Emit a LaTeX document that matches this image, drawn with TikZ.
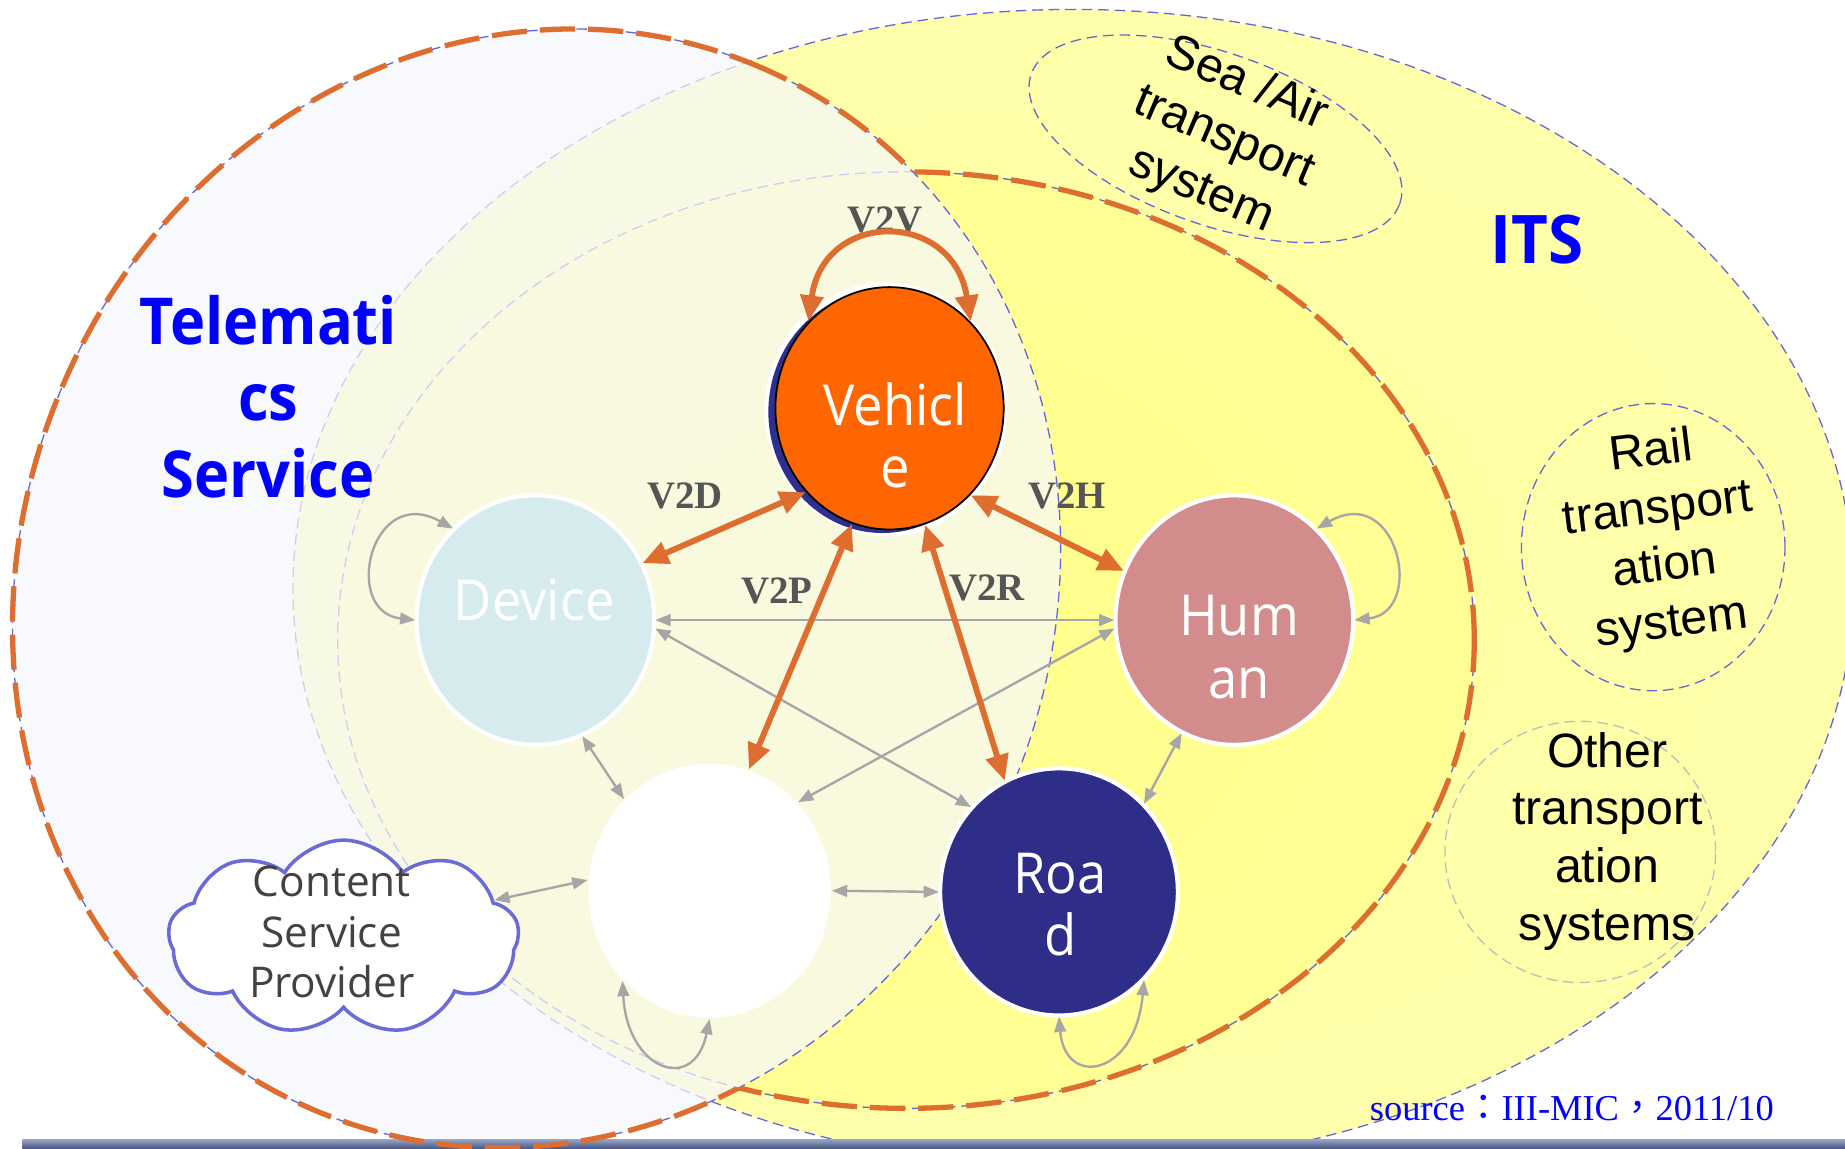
\documentclass[tikz,border=0pt]{standalone}
\usepackage{fontspec}
\setmainfont{Liberation Serif}
\newfontfamily\osans{Open Sans}
\newfontfamily\lsans{Liberation Sans}
\newfontfamily\cjkf{Noto Sans CJK TC}
\usetikzlibrary{arrows.meta,shapes.symbols,shapes.geometric}
\definecolor{itsA}{HTML}{FFFF9C}
\definecolor{itsB}{HTML}{FFFFAE}
\definecolor{itsC}{HTML}{FFFFD8}
\definecolor{inA}{HTML}{FFFF8C}
\definecolor{inB}{HTML}{FFFF99}
\definecolor{inC}{HTML}{FFFFAE}
\pgfdeclareradialshading{itsshade}{\pgfpoint{0bp}{0bp}}{color(0bp)=(itsA); color(30bp)=(itsB); color(50bp)=(itsC)}
\pgfdeclareradialshading{innershade}{\pgfpoint{0bp}{0bp}}{color(0bp)=(inA); color(38bp)=(inB); color(50bp)=(inC)}
\definecolor{telc}{HTML}{F6F7FC}
\definecolor{dashblue}{HTML}{6666D6}
\definecolor{orangeA}{HTML}{DE6E30}
\definecolor{grayA}{HTML}{A6A6A6}
\definecolor{grayB}{HTML}{BDBDBD}
\definecolor{labelgray}{HTML}{555555}
\definecolor{vehc}{HTML}{FF6600}
\definecolor{navyc}{HTML}{2E3090}
\definecolor{devc}{HTML}{D6EBEE}
\definecolor{humc}{HTML}{D28C8C}
\definecolor{roadc}{HTML}{2E2E88}
\definecolor{smallY}{HTML}{FFFFAA}
\definecolor{cloudc}{HTML}{6B6BD6}
\definecolor{cloudtext}{HTML}{454141}
\definecolor{barTop}{HTML}{9AA6C6}
\definecolor{barBot}{HTML}{4A5884}
\begin{document}
\begin{tikzpicture}[x=1pt,y=-1pt,
  thinblue/.style={draw=dashblue, line width=1.1pt, dash pattern=on 9pt off 5pt},
  orangedash/.style={draw=orangeA, line width=4.5pt, dash pattern=on 30pt off 11pt},
  oarr/.style={draw=orangeA, line width=5pt, >={Triangle[length=22pt,width=19pt]}, <->},
  garr/.style={draw=grayA, line width=2pt, >={Triangle[length=13pt,width=10pt]}, <->},
  ntext/.style={text=white, font=\osans\fontsize{48}{53}\selectfont, align=center, inner sep=0pt, xscale=0.93},
  btext/.style={font=\lsans\fontsize{41}{49}\selectfont, align=center, inner sep=0pt},
  lab/.style={font=\bfseries\fontsize{33}{33}\selectfont, text=labelgray, inner sep=0pt, anchor=base},
  bignode/.style={ellipse, inner sep=0pt, outer sep=1pt}
]
\useasboundingbox (0,0) rectangle (1568,976);
\clip (0,0) rectangle (1568,976);
\fill[white] (0,0) rectangle (1568,976);

% ITS regions
\shade[shading=itsshade] (912,500) ellipse [x radius=663pt, y radius=492pt];
\shade[shading=innershade] (770,544) ellipse [x radius=483pt, y radius=398pt];
\draw[thinblue] (912,500) ellipse [x radius=663pt, y radius=492pt];
\draw[thinblue] (770,544) ellipse [x radius=483pt, y radius=398pt];

% Telematics region
\fill[telc, fill opacity=0.72, rotate around={66.5:(456,500)}] (456,500) ellipse [x radius=482pt, y radius=438pt];
\draw[thinblue, rotate around={66.5:(456,500)}] (456,500) ellipse [x radius=482pt, y radius=438pt];

% bottom bar
\shade[top color=barTop, bottom color=barBot] (19,968) rectangle (1568,976);

% orange union outline
\begin{scope}[even odd rule]
  \clip (-3000,-3000) rectangle (4000,4000) (770,544) ellipse [x radius=483pt, y radius=398pt];
  \draw[orangedash, rotate around={66.5:(456,500)}] (456,500) ellipse [x radius=482pt, y radius=438pt];
\end{scope}
\begin{scope}[even odd rule, rotate around={66.5:(456,500)}]
  \clip (-3000,-3000) rectangle (4000,4000) (456,500) ellipse [x radius=482pt, y radius=438pt];
  \begin{scope}[rotate around={-66.5:(456,500)}]
    \draw[orangedash] (770,544) ellipse [x radius=483pt, y radius=398pt];
  \end{scope}
\end{scope}

% other transport systems
\node[ellipse, thinblue, fill=smallY, minimum width=332pt, minimum height=146pt, inner sep=0pt, rotate=-19.4] (sea) at (1033,118) {};
\node[btext, rotate=-23] (seatx) at (1040,117) {Sea /Air\\transport\\system};
\node[ellipse, thinblue, fill=smallY, minimum width=224pt, minimum height=244pt, inner sep=0pt] (rail) at (1405,465) {};
\node[btext, rotate=7] (railtx) at (1412,458) {Rail\\transport\\ation\\system};
\node[ellipse, draw=grayB, line width=1.1pt, dash pattern=on 9pt off 5pt, fill=smallY, minimum width=230pt, minimum height=222pt, inner sep=0pt] (other) at (1343,724) {};
\node[btext] (othertx) at (1366,715) {Other\\transport\\ation\\systems};

% titles
\node[font=\osans\bfseries\fontsize{55}{65}\selectfont, text=blue, align=center, inner sep=0pt, xscale=0.92] (telem) at (228,337) {Telemati\\cs\\Service};
\node[font=\osans\bfseries\fontsize{57}{57}\selectfont, text=blue, inner sep=0pt, anchor=base, xscale=0.95] (its) at (1306,224) {ITS};
\node[font=\fontsize{31}{31}\selectfont, text=blue, inner sep=0pt, anchor=base west] (src) at (1164,952) {source{\cjkf ：}III-MIC{\cjkf ，}2011/10};

% main nodes
\node[bignode, fill=white, minimum width=206pt, minimum height=216pt] (vehring) at (753,348) {};
\node[bignode, fill=navyc, minimum width=194pt, minimum height=206pt] (vehshadow) at (750,350) {};
\node[bignode, fill=vehc, draw=black, line width=1.5pt, minimum width=194pt, minimum height=206pt] (veh) at (756,347) {};
\node[bignode, fill=devc, draw=white, line width=3.5pt, minimum width=202pt, minimum height=212pt] (dev) at (455,527) {};
\node[bignode, fill=humc, draw=white, line width=3.5pt, minimum width=202pt, minimum height=212pt] (hum) at (1049,527) {};
\node[bignode, fill=roadc, draw=white, line width=3.5pt, minimum width=202pt, minimum height=210pt] (road) at (900,758) {};
\node[bignode, fill=white, minimum width=206pt, minimum height=216pt] (per) at (603,757) {};
\node[cloud, cloud puffs=9, cloud puff arc=115, aspect=1.85, draw=cloudc, line width=3pt, fill=white, minimum width=298pt, minimum height=166pt, inner sep=0pt] (csp) at (292,797) {};

\node[ntext] (vehtx) at (761,370) {Vehicl\\e};
\node[ntext, anchor=base] (devtx) at (454,527) {Device};
\node[ntext] (humtx) at (1053,550) {Hum\\an};
\node[ntext] (roadtx) at (901,769) {Roa\\d};
\node[font=\osans\fontsize{36}{43}\selectfont, text=cloudtext, align=center, inner sep=0pt] (csptx) at (282,792) {Content\\Service\\Provider};

% link labels
\node[lab] (l2v) at (752,198) {V2V};
\node[lab] (l2d) at (582,432) {V2D};
\node[lab] (l2h) at (907,432) {V2H};
\node[lab] (l2p) at (660,513) {V2P};
\node[lab] (l2r) at (839,510) {V2R};

% grey links
\draw[garr] (dev.0) -- (hum.180);
\draw[garr] (dev.-4) -- (road.136);
\draw[garr] (hum.184) -- (per.45);
\draw[garr] (dev.-68) -- (per.133);
\draw[garr] (hum.245) -- (road.46);
\draw[garr] (per.0) -- (road.180);
\draw[garr] (csp.14) -- (per.175);
\draw[garr] (dev.180) .. controls (290,520) and (315,410) .. (dev.132);
\draw[garr] (hum.0) .. controls (1212,520) and (1188,410) .. (hum.48);
\draw[garr] (per.226) .. controls (533,910) and (590,930) .. (per.270);
\draw[garr] (road.270) .. controls (905,925) and (965,915) .. (road.314);

% orange V2X links
\draw[oarr] (veh.133) .. controls (700,178) and (810,178) .. (veh.47);
\draw[oarr] (veh.225) -- (dev.28);
\draw[oarr] (veh.-47) -- (hum.156);
\draw[oarr] (veh.252) -- (per.72);
\draw[oarr] (veh.287) -- (road.116);
\end{tikzpicture}
\end{document}
